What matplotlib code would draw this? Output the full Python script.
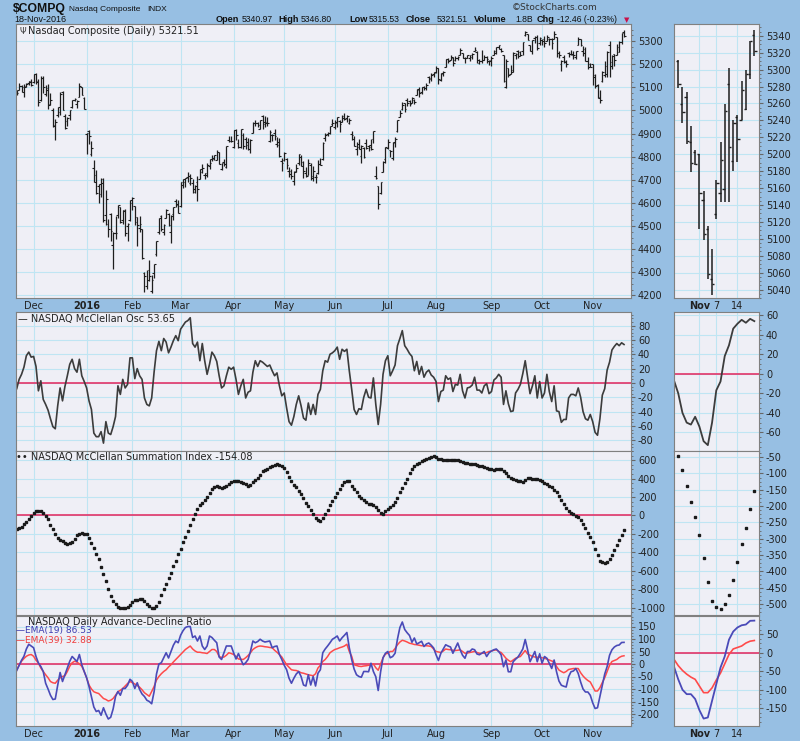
import numpy as np
import pandas as pd
import matplotlib
matplotlib.use('Agg')
import matplotlib.pyplot as plt
from matplotlib.ticker import MultipleLocator

plt.rcParams['font.family'] = 'DejaVu Sans'
plt.rcParams['axes.unicode_minus'] = False

# trading days shown (Nov 19 2015 .. Nov 18 2016)
holidays = ['2015-11-26', '2015-12-25', '2016-01-01', '2016-01-18', '2016-02-15',
            '2016-03-25', '2016-05-30', '2016-07-04', '2016-09-05']
dates = pd.bdate_range('2015-11-19', '2016-11-18')
dates = dates[~dates.isin(pd.to_datetime(holidays))]

# Nasdaq Composite daily bars
opens = [5085, 5090, 5105, 5080, 5107, 5117, 5124,
         5125, 5158, 5128, 5045, 5140, 5070, 5088, 5028, 5003, 4937, 4982, 5017, 5082, 4974, 4953, 4980, 5013, 5046, 5027, 5059, 5101, 5052,
         4897, 4912, 4813, 4751, 4722, 4673, 4680, 4703, 4547, 4509, 4551, 4420, 4472, 4547, 4583, 4525, 4564, 4502, 4526,
         4598, 4586, 4538, 4491, 4486, 4298, 4240, 4310, 4219, 4299, 4379, 4474, 4545, 4473, 4537, 4553, 4473, 4552, 4609, 4596,
         4586, 4677, 4690, 4713, 4688, 4687, 4661, 4690, 4705, 4736, 4720, 4723, 4761, 4790, 4789, 4787, 4819, 4745, 4779, 4757, 4872, 4869,
         4844, 4914, 4860, 4842, 4892, 4875, 4864, 4834, 4904, 4944, 4944, 4922, 4978, 4949, 4952, 4869, 4896, 4902, 4857, 4850, 4780,
         4786, 4788, 4740, 4738, 4696, 4740, 4771, 4800, 4778, 4731, 4723, 4766, 4706, 4713, 4728, 4769, 4790, 4880, 4897, 4904, 4943,
         4929, 4944, 4953, 4952, 4978, 4968, 4948, 4899, 4876, 4832, 4856, 4801, 4838, 4859, 4845, 4849, 4875, 4715, 4672, 4641, 4736, 4792,
         4837, 4829, 4794, 4864, 4911, 4972, 5006, 5032, 5047, 5042, 5034, 5044, 5068, 5093, 5081, 5101, 5097, 5143, 5134, 5156,
         5166, 5182, 5130, 5159, 5188, 5222, 5219, 5230, 5219, 5226, 5240, 5249, 5228, 5227, 5225, 5231, 5258, 5254, 5207, 5216, 5220, 5231, 5216,
         5217, 5240, 5256, 5274, 5268, 5240, 5102, 5182, 5159, 5168, 5239, 5258, 5255, 5256, 5325, 5331, 5283, 5256, 5314, 5317, 5290,
         5304, 5311, 5302, 5308, 5309, 5308, 5317, 5248, 5200, 5230, 5210, 5248, 5245, 5241, 5230, 5285, 5310, 5259, 5268, 5214, 5203,
         5200, 5146, 5112, 5053, 5129, 5154, 5159, 5283, 5192, 5244, 5240, 5254, 5295, 5341]
highs = [5090, 5117, 5111, 5114, 5120, 5128, 5135,
         5157, 5162, 5135, 5147, 5147, 5110, 5115, 5076, 5009, 4962, 5014, 5078, 5086, 4986, 4970, 5002, 5046, 5052, 5044, 5117, 5101, 5057,
         4903, 4916, 4866, 4787, 4742, 4683, 4708, 4710, 4654, 4532, 4556, 4475, 4544, 4592, 4584, 4571, 4575, 4512, 4614,
         4626, 4587, 4538, 4545, 4487, 4300, 4312, 4352, 4290, 4338, 4436, 4535, 4548, 4507, 4575, 4556, 4546, 4582, 4615, 4614,
         4690, 4705, 4708, 4736, 4724, 4703, 4676, 4716, 4749, 4767, 4731, 4772, 4792, 4806, 4809, 4828, 4821, 4774, 4789, 4847, 4891, 4890,
         4916, 4918, 4875, 4921, 4904, 4887, 4883, 4876, 4951, 4958, 4950, 4960, 4980, 4974, 4970, 4915, 4898, 4918, 4887, 4882, 4795,
         4820, 4793, 4756, 4748, 4737, 4767, 4810, 4808, 4780, 4757, 4789, 4774, 4758, 4726, 4784, 4795, 4865, 4904, 4906, 4934, 4962,
         4958, 4972, 4957, 4980, 4991, 4979, 4968, 4913, 4891, 4864, 4875, 4852, 4842, 4875, 4852, 4876, 4910, 4760, 4673, 4692, 4780, 4843,
         4876, 4831, 4862, 4885, 4960, 5001, 5036, 5033, 5053, 5046, 5060, 5049, 5093, 5101, 5101, 5106, 5117, 5149, 5160, 5166,
         5194, 5183, 5160, 5171, 5224, 5229, 5238, 5231, 5236, 5236, 5271, 5250, 5233, 5242, 5242, 5247, 5276, 5257, 5223, 5261, 5241, 5237, 5220,
         5234, 5263, 5276, 5284, 5272, 5240, 5223, 5183, 5197, 5252, 5249, 5263, 5257, 5295, 5342, 5332, 5285, 5306, 5320, 5326, 5318,
         5311, 5320, 5326, 5315, 5314, 5343, 5317, 5259, 5220, 5240, 5219, 5255, 5263, 5256, 5258, 5317, 5311, 5280, 5273, 5233, 5205,
         5200, 5157, 5115, 5088, 5170, 5215, 5259, 5302, 5240, 5246, 5287, 5300, 5334, 5347]
lows = [5066, 5087, 5082, 5060, 5100, 5111, 5105,
        5118, 5115, 5019, 5040, 5077, 5063, 5006, 5023, 4930, 4872, 4972, 4981, 5002, 4922, 4933, 4960, 5011, 5041, 5011, 5058, 5065, 5006,
        4813, 4853, 4804, 4689, 4637, 4602, 4627, 4518, 4506, 4452, 4434, 4313, 4446, 4533, 4513, 4509, 4458, 4435, 4520,
        4571, 4506, 4414, 4476, 4357, 4213, 4230, 4264, 4210, 4276, 4372, 4466, 4480, 4461, 4537, 4501, 4427, 4528, 4581, 4557,
        4582, 4663, 4671, 4691, 4677, 4641, 4641, 4608, 4704, 4731, 4704, 4714, 4746, 4780, 4787, 4786, 4767, 4741, 4761, 4752, 4863, 4863,
        4838, 4872, 4839, 4838, 4834, 4834, 4828, 4814, 4903, 4933, 4927, 4921, 4918, 4928, 4935, 4864, 4866, 4874, 4844, 4797, 4740,
        4783, 4745, 4712, 4705, 4678, 4734, 4766, 4758, 4710, 4713, 4720, 4701, 4696, 4687, 4724, 4765, 4787, 4867, 4889, 4900, 4932,
        4918, 4928, 4909, 4951, 4957, 4949, 4941, 4873, 4845, 4809, 4832, 4771, 4796, 4834, 4823, 4828, 4861, 4703, 4574, 4640, 4736, 4774,
        4834, 4799, 4787, 4842, 4907, 4971, 5002, 4993, 5020, 5019, 5031, 5026, 5066, 5060, 5071, 5090, 5087, 5120, 5129, 5143,
        5162, 5113, 5128, 5151, 5187, 5206, 5218, 5192, 5212, 5219, 5240, 5226, 5204, 5227, 5215, 5222, 5256, 5204, 5202, 5204, 5219, 5205, 5195,
        5194, 5239, 5243, 5265, 5254, 5125, 5096, 5143, 5157, 5166, 5224, 5229, 5234, 5238, 5320, 5305, 5257, 5245, 5290, 5260, 5285,
        5283, 5274, 5300, 5285, 5267, 5307, 5231, 5225, 5170, 5207, 5190, 5232, 5239, 5222, 5222, 5283, 5278, 5237, 5212, 5179, 5187,
        5111, 5098, 5052, 5034, 5123, 5144, 5143, 5144, 5180, 5191, 5240, 5252, 5289, 5316]
closes = [5074, 5105, 5102, 5103, 5116, 5128, 5109,
          5156, 5123, 5038, 5142, 5102, 5098, 5023, 5045, 4933, 4952, 4995, 5071, 5003, 4923, 4969, 5001, 5046, 5048, 5041, 5108, 5066, 5007,
          4903, 4891, 4836, 4689, 4644, 4638, 4686, 4526, 4615, 4488, 4477, 4472, 4472, 4591, 4518, 4568, 4468, 4507, 4614,
          4620, 4517, 4504, 4510, 4363, 4284, 4269, 4284, 4267, 4338, 4436, 4534, 4488, 4504, 4571, 4504, 4543, 4582, 4590, 4558,
          4690, 4703, 4707, 4717, 4708, 4649, 4674, 4662, 4748, 4750, 4729, 4764, 4775, 4796, 4809, 4822, 4769, 4774, 4767, 4847, 4869, 4870,
          4915, 4892, 4844, 4921, 4848, 4851, 4833, 4872, 4947, 4946, 4938, 4960, 4940, 4948, 4946, 4906, 4896, 4888, 4863, 4805, 4775,
          4818, 4763, 4726, 4717, 4736, 4750, 4810, 4761, 4737, 4718, 4775, 4716, 4739, 4713, 4770, 4766, 4861, 4895, 4902, 4934, 4948,
          4952, 4971, 4943, 4969, 4962, 4975, 4959, 4895, 4848, 4844, 4835, 4845, 4800, 4837, 4844, 4833, 4910, 4708, 4594, 4692, 4779, 4843,
          4863, 4823, 4859, 4877, 4957, 4989, 5023, 5006, 5034, 5030, 5056, 5036, 5090, 5074, 5100, 5098, 5110, 5140, 5155, 5162,
          5184, 5138, 5160, 5166, 5221, 5213, 5225, 5205, 5228, 5233, 5262, 5227, 5229, 5240, 5238, 5245, 5260, 5218, 5212, 5219, 5232, 5223, 5213,
          5227, 5250, 5276, 5284, 5259, 5126, 5212, 5155, 5174, 5250, 5245, 5235, 5241, 5295, 5340, 5306, 5257, 5306, 5319, 5269, 5312,
          5301, 5290, 5316, 5307, 5292, 5329, 5247, 5239, 5213, 5214, 5200, 5244, 5246, 5242, 5257, 5310, 5283, 5250, 5216, 5190, 5189,
          5154, 5106, 5058, 5046, 5166, 5193, 5251, 5209, 5237, 5218, 5276, 5295, 5334, 5321.51]

# McClellan oscillator
mcc_osc = [-8, 5, 12, 22, 38, 43, 36, 37, 23, -11,
           3, -23, -30, -38, -50, -61, -64, -32, -7, -25,
           -5, 10, 26, 33, 20, 15, 33, 10, 2, -7,
           -25, -37, -70, -75, -75, -68, -84, -54, -70, -72,
           -61, -47, -4, -16, 5, -7, -2, 35, 35, 6,
           20, 10, 5, -21, -30, -32, -21, 15, 45, 58,
           45, 62, 57, 42, 50, 59, 66, 59, 75, 80,
           85, 87, 91, 55, 50, 57, 31, 55, 31, 12,
           26, 43, 38, 30, 10, -7, -4, 10, 22, 19,
           22, 5, -16, -4, 5, -21, -13, -11, 15, 31,
           23, 31, 29, 26, 23, 25, 17, 10, 14, -4,
           -18, -14, -35, -54, -59, -47, -30, -18, -32, -49,
           -52, -28, -44, -30, -44, -16, -9, 17, 31, 29,
           40, 42, 45, 50, 33, 47, 44, 47, 17, -9,
           -37, -44, -36, -37, -20, -9, -20, -21, 7, -30,
           -58, -30, 12, 31, 38, 10, 17, 25, 52, 62,
           73, 52, 47, 41, 37, 17, 30, 12, 23, 8,
           15, 18, 11, 8, 2, -26, -12, -10, 10, 5,
           7, -12, -2, -3, 12, -11, -21, -7, -6, -3,
           8, -10, -10, -14, -4, -1, -15, -12, 4, 7,
           12, 8, -30, -11, -29, -40, -39, -14, -9, -2,
           13, 31, 8, -15, -4, 10, -21, 2, -21, -14,
           12, -12, -26, -4, -39, -40, -55, -51, -51, -21,
           -16, -16, -18, -7, -20, -40, -50, -52, -44, -54,
           -69, -73, -50, -17, -8, 18, 29, 46, 51, 55,
           52, 56, 53.65]

# McClellan summation index
mcc_sum = [-144, -135, -123, -95, -69, -35, -7, 30, 47, 54,
           45, 29, -10, -43, -100, -152, -200, -242, -265, -278,
           -300, -314, -300, -285, -250, -213, -200, -195, -200, -206,
           -240, -300, -355, -420, -477, -560, -640, -711, -800, -870,
           -928, -965, -990, -1000, -1005, -1007, -995, -970, -940, -920,
           -912, -910, -910, -930, -957, -985, -1000, -1007, -980, -935,
           -860, -800, -740, -680, -620, -550, -495, -420, -360, -290,
           -230, -170, -100, -40, 11, 70, 115, 140, 165, 200,
           240, 285, 310, 318, 305, 300, 310, 320, 345, 365,
           372, 379, 370, 361, 350, 343, 325, 330, 365, 385,
           405, 440, 480, 495, 510, 522, 534, 550, 560, 550,
           534, 515, 470, 420, 375, 336, 305, 271, 230, 185,
           140, 100, 60, 15, -25, -50, -61, -30, 20, 65,
           110, 155, 200, 245, 290, 335, 360, 370, 372, 320,
           290, 255, 215, 190, 165, 145, 126, 122, 118, 90,
           60, 25, 20, 47, 75, 95, 115, 150, 195, 250,
           300, 350, 400, 460, 510, 540, 560, 575, 590, 605,
           615, 625, 635, 643, 635, 617, 610, 602, 600, 605,
           606, 604, 602, 598, 590, 582, 575, 568, 563, 561,
           559, 550, 540, 532, 525, 517, 510, 502, 498, 502,
           509, 503, 480, 460, 430, 410, 395, 385, 379, 372,
           365, 390, 408, 405, 400, 397, 392, 385, 370, 355,
           340, 325, 310, 280, 250, 210, 170, 120, 85, 54,
           30, 11, -5, -20, -46, -89, -138, -188, -233, -288,
           -360, -433, -490, -508, -516, -501, -472, -426, -372, -317,
           -268, -210, -154.08]

# Advance-decline ratio EMAs
ema19 = [-26, -5, 15, 31, 60, 79, 72, 65, 30, 4,
         -10, -30, -77, -100, -125, -142, -140, -85, -34, -70,
         -43, -15, 11, 30, 20, 10, 38, -3, -30, -55,
         -90, -131, -172, -190, -186, -205, -175, -200, -220, -213,
         -180, -130, -110, -125, -98, -98, -85, -61, -70, -98,
         -75, -102, -120, -130, -145, -150, -159, -111, -40, 0,
         5, 25, 45, 24, 50, 75, 92, 85, 115, 133,
         146, 150, 150, 106, 112, 92, 112, 72, 58, 72,
         112, 106, 95, 85, 28, 18, 45, 72, 72, 72,
         45, 20, 42, 18, -3, 5, 18, 51, 92, 85,
         90, 99, 92, 88, 90, 92, 65, 70, 72, 38,
         18, -5, -23, -57, -77, -57, -40, -30, -50, -84,
         -88, -43, -84, -50, -88, -37, -23, 45, 60, 72,
         85, 99, 105, 112, 92, 105, 115, 126, 65, 18,
         -20, -43, -50, -53, -30, -30, -31, 3, -30, -51,
         -106, -31, 25, 43, 50, 25, 30, 43, 100, 146,
         168, 138, 125, 114, 87, 104, 80, 85, 91, 70,
         80, 84, 75, 64, 37, 14, 43, 60, 77, 72,
         68, 43, 64, 84, 57, 35, 23, 50, 50, 60,
         57, 40, 37, 43, 50, 30, 45, 52, 57, 60,
         50, 37, -11, 16, -31, -31, 9, 19, 28, 43,
         60, 98, 57, 9, 30, 50, 9, 41, 3, 30,
         23, 3, -18, 16, -31, -68, -85, -89, -92, -51,
         -31, -28, -18, -38, -72, -100, -112, -112, -125, -155,
         -178, -175, -130, -85, -40, -10, 35, 57, 68, 74,
         76, 86, 86.53]
ema39 = [-23, -5, 11, 22, 31, 36, 38, 31, 15, 4,
         -16, -30, -43, -55, -70, -75, -77, -65, -55, -50,
         -47, -30, -9, 5, 11, 8, 0, -9, -30, -55,
         -84, -100, -111, -115, -118, -128, -138, -142, -148, -145,
         -138, -125, -111, -105, -98, -88, -78, -70, -75, -80,
         -86, -93, -103, -115, -122, -129, -110, -90, -64, -50,
         -39, -30, -23, -12, -3, 8, 18, 28, 38, 48,
         58, 65, 72, 60, 52, 47, 47, 45, 44, 42,
         50, 58, 58, 50, 30, 26, 28, 35, 45, 42,
         38, 30, 20, 19, 18, 25, 34, 45, 58, 65,
         70, 72, 71, 69, 68, 66, 65, 55, 47, 38,
         28, 12, -3, -13, -23, -25, -26, -30, -35, -37,
         -40, -43, -45, -47, -39, -16, -5, 10, 18, 30,
         45, 52, 58, 61, 65, 68, 72, 79, 50, 31,
         -3, -6, -9, -10, -8, -7, -5, -4, 0, -15,
         -25, 0, 25, 40, 43, 50, 50, 62, 77, 88,
         95, 92, 88, 83, 81, 78, 77, 75, 73, 73,
         73, 72, 70, 60, 50, 48, 46, 52, 60, 58,
         57, 55, 54, 55, 57, 50, 43, 44, 46, 48,
         50, 46, 43, 43, 43, 46, 50, 52, 55, 57,
         50, 46, 35, 23, 15, 9, 16, 23, 27, 30,
         42, 54, 40, 35, 30, 28, 27, 27, 25, 23,
         20, 16, 12, 9, -10, -24, -30, -35, -30, -22,
         -20, -18, -18, -18, -35, -48, -58, -66, -72, -90,
         -108, -108, -95, -74, -55, -30, -5, 10, 14, 18,
         26, 31, 32.88]

BG = '#97bfe3'
PANEL = '#efeff6'
GRID = '#bfe5f3'
ZERO = '#e23468'
TXT = '#222222'
HDR_FONT = ['Liberation Sans', 'DejaVu Sans']

x = np.arange(len(dates))
opens, highs, lows, closes = map(np.array, (opens, highs, lows, closes))

W, H = 800, 741
fig = plt.figure(figsize=(8, 7.41), dpi=100, facecolor=BG)


def box(l, t, r, b):
    return [l / W, 1 - b / H, (r - l) / W, (b - t) / H]


def px(xp, yp):
    return xp / W, 1 - yp / H


# month starts for the big panels
month_idx = [i for i in range(1, len(dates)) if dates[i].month != dates[i - 1].month]
month_lab = ['2016' if dates[i].month == 1 else dates[i].strftime('%b') for i in month_idx]
nov1 = month_idx[-1]
zoom_idx = [nov1, int(np.where(dates == '2016-11-07')[0][0]), int(np.where(dates == '2016-11-14')[0][0])]
zoom_lab = ['Nov', '7', '14']
zoom_from = len(dates) - 19


def style(ax, lims, step, xt, xl, show_x, xlim, bold_lab):
    ax.set_facecolor(PANEL)
    ax.set_xlim(*xlim)
    ax.set_ylim(*lims)
    ax.yaxis.tick_right()
    ax.yaxis.set_major_locator(MultipleLocator(step))
    ax.yaxis.set_minor_locator(MultipleLocator(step / 4))
    ax.grid(True, which='major', color=GRID, lw=0.8)
    ax.set_axisbelow(True)
    ax.tick_params(axis='y', which='major', labelsize=7, length=3, color='#666666', labelcolor=TXT, pad=2)
    ax.tick_params(axis='y', which='minor', length=1.5, color='#666666')
    ax.set_xticks(xt)
    if show_x:
        ax.set_xticklabels(xl, fontsize=7, color=TXT)
        for lab in ax.get_xticklabels():
            if lab.get_text() == bold_lab:
                lab.set_fontweight('bold')
    else:
        ax.set_xticklabels([])
    ax.tick_params(axis='x', length=0, pad=2)
    for sp in ax.spines.values():
        sp.set_color('#808080')
        sp.set_linewidth(0.8)


L, R = 16, 631
RL, RR = 674, 759
rows = [(24, 298), (312, 451), (451, 615), (616, 726)]
left_xlim = (-0.3, 254.9)
right_xlim = (233.0, 253.1)

# ---- price panels
ax1 = fig.add_axes(box(L, rows[0][0], R, rows[0][1]))
style(ax1, (4189, 5374), 100, month_idx, month_lab, True, left_xlim, '2016')
ax1.vlines(x, lows, highs, color='#1e1e1e', lw=0.9)
ax1.hlines(opens, x - 0.7, x, color='#1e1e1e', lw=0.8)
ax1.hlines(closes, x, x + 0.7, color='#1e1e1e', lw=0.8)

ax1r = fig.add_axes(box(RL, rows[0][0], RR, rows[0][1]))
style(ax1r, (5030, 5354), 20, zoom_idx, zoom_lab, True, right_xlim, 'Nov')
s = slice(zoom_from, None)
ax1r.vlines(x[s], lows[s], highs[s], color='#1e1e1e', lw=1.1)
ax1r.hlines(opens[s], x[s] - 0.55, x[s], color='#1e1e1e', lw=1.0)
ax1r.hlines(closes[s], x[s], x[s] + 0.55, color='#1e1e1e', lw=1.0)

# ---- McClellan oscillator
ax2 = fig.add_axes(box(L, rows[1][0], R, rows[1][1]))
style(ax2, (-95, 99), 20, month_idx, month_lab, False, left_xlim, '2016')
ax2.axhline(0, color=ZERO, lw=1.2)
ax2.plot(x, mcc_osc, color='#3c3c3c', lw=1.2)

ax2r = fig.add_axes(box(RL, rows[1][0], RR, rows[1][1]))
style(ax2r, (-79, 63), 20, zoom_idx, zoom_lab, False, right_xlim, 'Nov')
ax2r.axhline(0, color=ZERO, lw=1.2)
ax2r.plot(x, mcc_osc, color='#3c3c3c', lw=1.3)

# ---- summation index
ax3 = fig.add_axes(box(L, rows[2][0], R, rows[2][1]))
style(ax3, (-1080, 700), 200, month_idx, month_lab, False, left_xlim, '2016')
ax3.axhline(0, color=ZERO, lw=1.2)
ax3.plot(x, mcc_sum, ls='none', marker='s', ms=1.6, color='#1a1a1a')

ax3r = fig.add_axes(box(RL, rows[2][0], RR, rows[2][1]))
style(ax3r, (-534, -31), 50, zoom_idx, zoom_lab, False, right_xlim, 'Nov')
ax3r.plot(x, mcc_sum, ls='none', marker='s', ms=1.8, color='#1a1a1a')

# ---- advance-decline ratio
ax4 = fig.add_axes(box(L, rows[3][0], R, rows[3][1]))
style(ax4, (-248, 192), 50, month_idx, month_lab, True, left_xlim, '2016')
ax4.axhline(0, color=ZERO, lw=1.2)
ax4.plot(x, ema39, color='#ff4a4a', lw=1.1)
ax4.plot(x, ema19, color='#4a4ab8', lw=1.2)

ax4r = fig.add_axes(box(RL, rows[3][0], RR, rows[3][1]))
style(ax4r, (-198, 99), 50, zoom_idx, zoom_lab, True, right_xlim, 'Nov')
ax4r.axhline(0, color=ZERO, lw=1.2)
ax4r.plot(x, ema39, color='#ff4a4a', lw=1.2)
ax4r.plot(x, ema19, color='#4a4ab8', lw=1.3)

# ---- header
fig.text(*px(13, 9), '$COMPQ', fontsize=8.8, fontweight='bold', color='#111111', va='center', family=HDR_FONT)
fig.text(*px(69, 9.5), 'Nasdaq Composite', fontsize=6, color='#111111', va='center', family=HDR_FONT)
fig.text(*px(147, 9.5), 'INDX', fontsize=6, color='#111111', va='center', family=HDR_FONT)
fig.text(*px(14, 19.5), '18-Nov-2016', fontsize=6.5, color='#111111', va='center', family=HDR_FONT)
fig.text(*px(555, 7), '\u00a9StockCharts.com', fontsize=6.5, color='#333333', va='center', ha='center')
hdr = [(216, 'Open', True), (242, '5340.97', False), (278, 'High', True), (301, '5346.80', False),
       (349, 'Low', True), (369, '5315.53', False), (406, 'Close', True), (437, '5321.51', False),
       (474, 'Volume', True), (515, '1.8B', False), (537, 'Chg', True), (557, '-12.46 (-0.23%)', False)]
for xp, t, b in hdr:
    fig.text(*px(xp, 19.5), t, fontsize=6.6 if b else 6.2, fontweight='bold' if b else 'normal',
             color='#111111', va='center', family=HDR_FONT)
fig.text(*px(624, 20), '\u25bc', fontsize=5, color='#c8104a', va='center')

# ---- panel titles
fig.text(*px(19, 31), '\u03a8', fontsize=6, color='#333333', va='center')
fig.text(*px(28, 31), 'Nasdaq Composite (Daily) 5321.51', fontsize=7, color=TXT, va='center')
fig.text(*px(18, 319), '\u2014 NASDAQ McClellan Osc 53.65', fontsize=7, color=TXT, va='center')
fig.text(*px(16, 457), '\u2022\u2022 NASDAQ McClellan Summation Index -154.08', fontsize=7, color=TXT, va='center')
fig.text(*px(28, 622), 'NASDAQ Daily Advance-Decline Ratio', fontsize=7, color=TXT, va='center')
fig.text(*px(16, 631), '\u2014EMA(19) 86.53', fontsize=6.5, color='#3c3cb0', va='center')
fig.text(*px(16, 640), '\u2014EMA(39) 32.88', fontsize=6.5, color='#f03c3c', va='center')

fig.savefig('out.png', dpi=100, facecolor=BG)
